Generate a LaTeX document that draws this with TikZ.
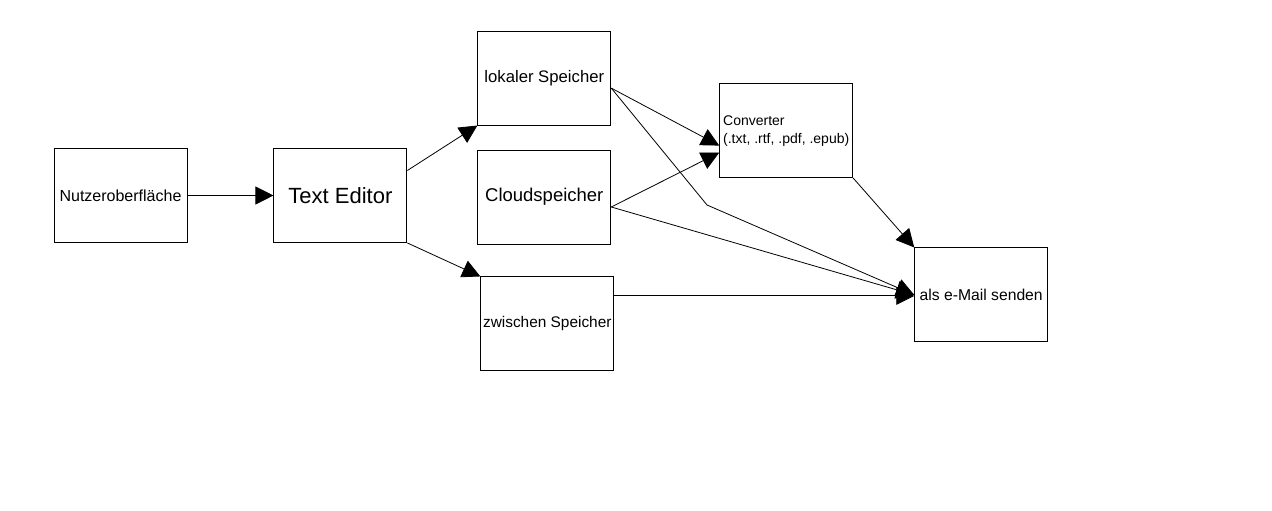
\documentclass[tikz,border=0pt]{standalone}
\usepackage{fontspec}
\setmainfont{Liberation Sans}
\usetikzlibrary{arrows.meta, positioning}

\begin{document}
\begin{tikzpicture}[
    x=1pt, y=1pt,
    node distance=70pt,
    block/.style={rectangle, draw=black, line width=0.9pt, minimum width=133pt, minimum height=94pt, inner sep=2pt, align=center},
    flow/.style={-{Triangle[length=18pt,width=18pt]}, line width=0.8pt}
]
\useasboundingbox (0,0) rectangle (1272,511);

\node[block, font=\fontsize{16}{19}\selectfont] (nutzer) at (120.5,315.5) {Nutzeroberfläche};
\node[block, right=86pt of nutzer, font=\fontsize{22}{26}\selectfont] (editor) {Text Editor};
\node[block, right=70pt of editor, yshift=-1.5pt, font=\fontsize{18.5}{22}\selectfont] (cloud) {Cloudspeicher};
\node[block, above=24pt of cloud, font=\fontsize{16.7}{20}\selectfont] (lokal) {lokaler Speicher};
\node[block, below=32pt of cloud, xshift=3pt, font=\fontsize{15.4}{18}\selectfont] (zwischen) {zwischen Speicher};
\node[block, right=108pt of lokal, yshift=-52.5pt, align=left, font=\fontsize{14}{18}\selectfont] (converter) {Converter\\(.txt, .rtf, .pdf, .epub)};
\node[block, right=300pt of zwischen, yshift=29pt, font=\fontsize{15.7}{19}\selectfont] (email) {als e-Mail senden};

\coordinate (knick) at (707,306);

\draw[flow] (nutzer) -- (editor);
\draw[flow] ([yshift=25pt]editor.east) -- (lokal.south west);
\draw[flow] (editor.south east) -- (zwischen.north west);
\draw[flow] ([yshift=-10pt]lokal.east) -- ([yshift=-15pt]converter.west);
\draw[flow] ([yshift=-10pt]lokal.east) -- (knick) -- (email.west);
\draw[flow] ([yshift=-10pt]cloud.east) -- ([yshift=-22pt]converter.west);
\draw[flow] ([yshift=-10pt]cloud.east) -- (email.west);
\draw[flow] ([yshift=28pt]zwischen.east) -- ([yshift=-1pt]email.west);
\draw[flow] (converter.south east) -- (email.north west);
\end{tikzpicture}
\end{document}
